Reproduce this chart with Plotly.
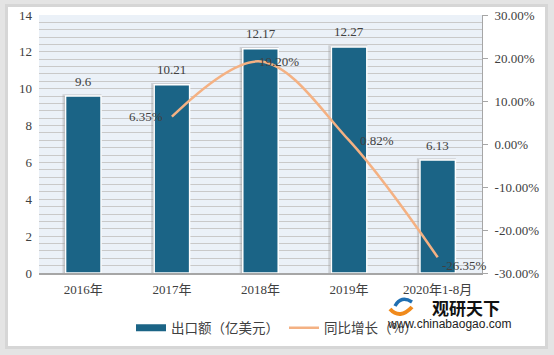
import plotly.graph_objects as go

categories = ["2016年", "2017年", "2018年", "2019年", "2020年1-8月"]
export_values = [9.6, 10.21, 12.17, 12.27, 6.13]
growth_values = [None, 6.35, 19.20, 0.82, -26.35]
left_ticks = [0, 2, 4, 6, 8, 10, 12, 14]
right_ticks = [-30, -20, -10, 0, 10, 20, 30]
right_tick_labels = [f"{v:.2f}%" for v in right_ticks]

W, H = 554, 355
L, R, T, B = 39, 72, 15, 82
pw, ph = W - L - R, H - T - B

def px(x):
    return (x - L) / pw

def py(y):
    return (H - B - y) / ph

num_font = "Liberation Serif, Noto Sans CJK SC, serif"
cjk_font = "Noto Sans CJK SC, sans-serif"
txt_color = "#404040"
bar_color = "#1b6486"
line_color = "#f4b183"

fig = go.Figure()
# soft shadow behind bars
fig.add_trace(go.Bar(
    x=categories, y=export_values, showlegend=False, hoverinfo="skip",
    width=0.4, offset=-0.215,
    marker=dict(color="rgba(150,150,150,0.5)", line=dict(color="rgba(160,160,160,0.4)", width=3.5)),
))
fig.add_trace(go.Bar(
    x=categories, y=export_values, name="出口额（亿美元）", showlegend=False,
    width=0.4, offset=-0.2,
    marker=dict(color=bar_color, line=dict(color="white", width=1.5)),
))
fig.add_trace(go.Scatter(
    x=categories, y=growth_values, name="同比增长（%）", yaxis="y2", showlegend=False,
    mode="lines", line=dict(color=line_color, width=2.5, shape="spline", smoothing=1.0),
))
# legend proxies
fig.add_trace(go.Scatter(x=[None], y=[None], name="出口额（亿美元）", mode="lines",
                         line=dict(color=bar_color, width=7)))
fig.add_trace(go.Scatter(x=[None], y=[None], name="同比增长（%）", mode="lines",
                         line=dict(color=line_color, width=2.5)))

annotations = []
for c, v in zip(categories, export_values):
    annotations.append(dict(x=c, y=v, xref="x", yref="y", text=f"{v:g}", showarrow=False,
                            xanchor="center", yanchor="middle", yshift=15,
                            font=dict(family=num_font, size=13, color=txt_color)))

growth_label_anchor = ["left", "right", "left", "left", "left"]
growth_label_xshift = [0, -7, -4, 9, 2]
growth_label_yshift = [0, 0, 0, 0, -8]
for c, v, a, xs, ys in zip(categories, growth_values, growth_label_anchor,
                           growth_label_xshift, growth_label_yshift):
    if v is None:
        continue
    annotations.append(dict(x=c, y=v, xref="x", yref="y2", text=f"{v:.2f}%", showarrow=False,
                            xanchor=a, yanchor="middle", xshift=xs, yshift=ys,
                            font=dict(family=num_font, size=13, color=txt_color)))

annotations += [
    dict(text="<b>观研天下</b>", xref="paper", yref="paper", x=px(466), y=py(307),
         xanchor="center", yanchor="middle",
         showarrow=False, font=dict(family=cjk_font, size=17, color="#111111")),
    dict(text="www.chinabaogao.com", xref="paper", yref="paper", x=px(449), y=py(324),
         xanchor="center", yanchor="middle",
         showarrow=False, font=dict(family="Liberation Sans, Arial, sans-serif", size=12, color="#222222")),
]

def ppath(points):
    (x0, y0), (qx, qy), (x1, y1) = points
    return f"M {px(x0)} {py(y0)} Q {px(qx)} {py(qy)} {px(x1)} {py(y1)}"

shapes = [
    dict(type="rect", xref="paper", yref="paper", x0=px(0), x1=px(W), y0=py(H), y1=py(0),
         fillcolor="#e4e4e4", line=dict(width=0), layer="below"),
    dict(type="rect", xref="paper", yref="paper", x0=px(5), x1=px(548), y0=py(349), y1=py(4),
         fillcolor="#d6d6d6", line=dict(width=0), layer="below"),
    dict(type="rect", xref="paper", yref="paper", x0=px(8), x1=px(545), y0=py(346), y1=py(7),
         fillcolor="white", line=dict(width=0), layer="below"),
    dict(type="rect", xref="paper", yref="paper", x0=0, x1=1, y0=0, y1=1,
         fillcolor="#ebf1f8", line=dict(width=0), layer="below"),
    # watermark logo swooshes
    dict(type="path", xref="paper", yref="paper", path=ppath([(395, 306), (401, 295), (412, 302)]),
         line=dict(color="#1f6fb2", width=3.5)),
    dict(type="path", xref="paper", yref="paper", path=ppath([(390, 309), (400, 320), (412, 307)]),
         line=dict(color="#f08a1c", width=4)),
]

fig.update_layout(
    width=W, height=H,
    margin=dict(l=L, r=R, t=T, b=B, autoexpand=False),
    paper_bgcolor="white", plot_bgcolor="rgba(0,0,0,0)",
    showlegend=True, barmode="overlay",
    legend=dict(orientation="h", x=px(277), xanchor="center", y=py(328), yanchor="middle",
                font=dict(family=cjk_font, size=13.5, color=txt_color),
                bgcolor="rgba(0,0,0,0)", itemwidth=30, tracegroupgap=0),
    xaxis=dict(
        range=[-0.5, len(categories) - 0.5], autorange=False,
        showline=True, linecolor="#a6a6a6", linewidth=1.5, ticks="",
        tickfont=dict(family=num_font, size=13, color=txt_color),
        showgrid=False, ticklabelstandoff=4,
    ),
    yaxis=dict(
        range=[0, 14], tickvals=left_ticks, showline=False, ticks="",
        tickfont=dict(family=num_font, size=13, color=txt_color),
        showgrid=True, gridcolor="#c9c9c9", gridwidth=1, zeroline=False,
        minor=dict(dtick=0.4, showgrid=True, gridcolor="#c9c9c9", gridwidth=1),
        ticklabelstandoff=6,
    ),
    yaxis2=dict(
        overlaying="y", side="right", range=[-30, 30], tickvals=right_ticks,
        ticktext=right_tick_labels, showgrid=False, zeroline=False,
        showline=True, linecolor="#a6a6a6", linewidth=1, ticks="outside", ticklen=5,
        tickcolor="#a6a6a6", ticklabelstandoff=4,
        tickfont=dict(family=num_font, size=13, color=txt_color),
    ),
    shapes=shapes,
    annotations=annotations,
)

fig.write_html("out.html", config={"displayModeBar": False},
               post_script="document.body.style.margin='0';document.body.style.overflow='hidden';")
